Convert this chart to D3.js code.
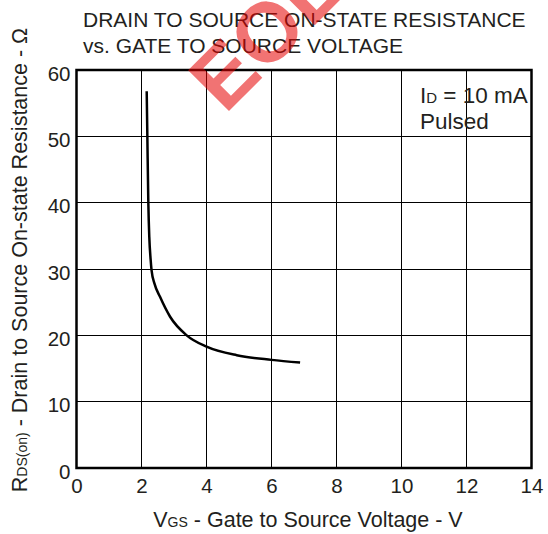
<!DOCTYPE html>
<meta charset="utf-8">
<style>
body{ margin:0; background:#fff; }
text{ font-family:"Liberation Sans", Arial, sans-serif; fill:#231f20; }
.grid line{ stroke:#000; stroke-width:1px; shape-rendering:crispEdges; }
.tick text{ font-size:20.5px; }
.title{ font-size:21px; }
.lbl{ font-size:21.5px; }
.note{ font-size:22.5px; }
.wm{ font-size:84px; font-weight:bold; fill:#e60000; fill-opacity:0.55; }
</style>
<body>
<script src="https://d3js.org/d3.v7.min.js"></script>
<script>

// curve: Vgs (V), Rds(on) (ohm)
var vgs = [2.16, 2.18, 2.21, 2.24, 2.28, 2.31, 2.4, 2.57, 2.88, 3.39, 4.0, 4.93, 6.0, 6.88];
var rds = [56.8, 50, 40, 34.8, 31.5, 29.8, 27.8, 25.8, 22.8, 20.0, 18.3, 17.0, 16.3, 15.9];
var xTicks = [0, 2, 4, 6, 8, 10, 12, 14];
var yTicks = [0, 10, 20, 30, 40, 50, 60];
var titleLines = ["DRAIN TO SOURCE ON-STATE RESISTANCE", "vs. GATE TO SOURCE VOLTAGE"];

var W = 548, H = 534;
var svg = d3.select("body").append("svg").attr("width", W).attr("height", H);

var x = d3.scaleLinear().domain([0, 14]).range([76.5, 531.5]);
var y = d3.scaleLinear().domain([0, 60]).range([468, 70]);

// grid
var grid = svg.append("g").attr("class", "grid");
grid.selectAll(".vx").data(xTicks.slice(1, -1)).enter().append("line")
	.attr("x1", d=>x(d)).attr("x2", d=>x(d)).attr("y1", y(0)).attr("y2", y(60));
grid.selectAll(".hy").data(yTicks.slice(1, -1)).enter().append("line")
	.attr("y1", d=>y(d)).attr("y2", d=>y(d)).attr("x1", x(0)).attr("x2", x(14));

// tick labels
svg.append("g").attr("transform", "translate(0," + y(0) + ")")
	.call(d3.axisBottom(x).tickValues(xTicks).tickSize(0).tickPadding(10))
	.call(g=>g.select(".domain").remove());
svg.append("g").attr("transform", "translate(" + (x(0) - 6) + ",0)")
	.call(d3.axisLeft(y).tickValues(yTicks).tickSize(0).tickPadding(0))
	.call(g=>g.select(".domain").remove())
	.selectAll("text").attr("dy", "0.5em");
svg.selectAll(".tick text").attr("fill", "#231f20");

// frame
svg.append("rect").attr("x", x(0)).attr("y", y(60))
	.attr("width", x(14) - x(0)).attr("height", y(0) - y(60))
	.attr("fill", "none").attr("stroke", "#000").attr("stroke-width", 2.5);

// curve
var line = d3.line().x((d, i)=>x(vgs[i])).y((d, i)=>y(rds[i])).curve(d3.curveMonotoneX);
svg.append("path").datum(vgs).attr("d", line)
	.attr("fill", "none").attr("stroke", "#000").attr("stroke-width", 2.5);

// titles
svg.selectAll(".title").data(titleLines).enter().append("text").attr("class", "title")
	.attr("x", 83).attr("y", (d, i)=>27 + i * 26).text(d=>d);

// annotation
var a = svg.append("text").attr("class", "note").attr("x", 420).attr("y", 103);
a.append("tspan").text("I");
a.append("tspan").attr("font-size", "15px").text("D");
a.append("tspan").text(" = 10 mA");
svg.append("text").attr("class", "note").attr("x", 420).attr("y", 129).text("Pulsed");

// x label
var xl = svg.append("text").attr("class", "lbl").attr("x", 308).attr("y", 527).attr("text-anchor", "middle");
xl.append("tspan").text("V");
xl.append("tspan").attr("font-size", "14px").text("GS");
xl.append("tspan").text(" - Gate to Source Voltage - V");

// y label
var yl = svg.append("text").attr("class", "lbl").attr("transform", "translate(27,260) rotate(-90)")
	.attr("text-anchor", "middle");
yl.append("tspan").text("R");
yl.append("tspan").attr("font-size", "14px").text("DS(on)");
yl.append("tspan").text(" - Drain to Source On-state Resistance - Ω");

// watermark
svg.append("text").attr("class", "wm").attr("text-anchor", "middle")
	.attr("transform", "translate(286,54) rotate(-45)").text("EOL");

</script>
</body>
</html>
